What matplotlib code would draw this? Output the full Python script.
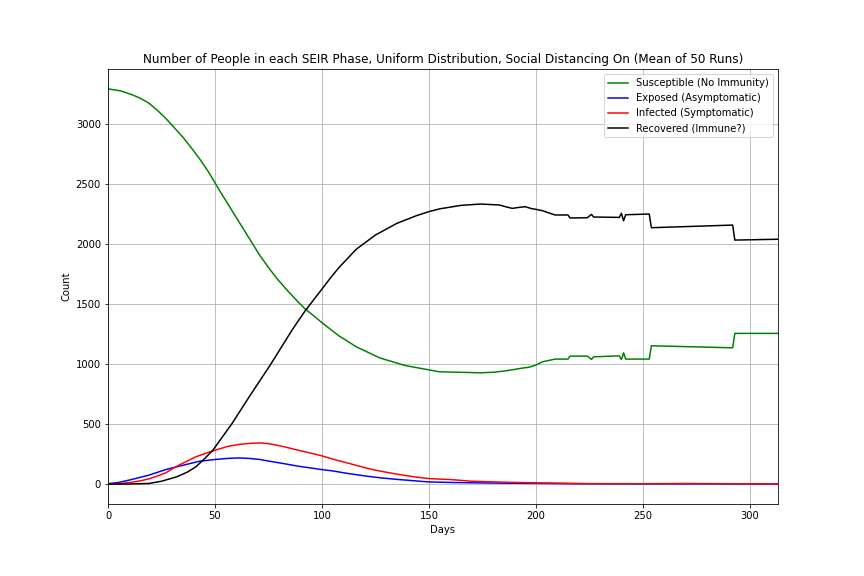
import matplotlib
matplotlib.use('Agg')
from matplotlib import pyplot as plt

# values
s_days = [0, 6, 11, 15, 19, 23, 27, 35, 39, 43, 47, 50, 52, 60, 68, 71, 75, 79, 83, 89, 92, 97,
          100, 104, 108, 116, 127, 139, 155, 165, 174, 180, 184, 188, 193, 197, 200, 203, 209,
          215, 216, 224, 226, 227, 239, 240, 241, 242, 253, 254, 292, 293, 313]
s_vals = [3292, 3275, 3245, 3215, 3175, 3115, 3047, 2890, 2800, 2705, 2600, 2510, 2450, 2220,
          1990, 1905, 1805, 1712, 1630, 1515, 1462, 1390, 1345, 1290, 1235, 1145, 1052, 988,
          936, 932, 928, 932, 940, 950, 965, 975, 992, 1019, 1042, 1042, 1067, 1067, 1039, 1061,
          1069, 1039, 1094, 1042, 1042, 1153, 1136, 1256, 1256]

e_days = [0, 5, 11, 19, 27, 31, 35, 43, 50, 56, 61, 66, 71, 76, 82, 89, 100, 105, 112, 121,
          128, 136, 150, 160, 170, 185, 200, 220, 250, 280, 313]
e_vals = [5, 15, 39, 75, 122, 140, 158, 192, 206, 215, 219, 215, 206, 190, 172, 150, 122, 111,
          90, 67, 52, 39, 19, 15, 12, 9, 7, 4, 3, 3, 2]

i_days = [0, 5, 11, 15, 19, 23, 27, 31, 35, 41, 46, 50, 56, 61, 66, 71, 75, 79, 84, 89, 95,
          100, 107, 113, 120, 125, 131, 136, 143, 150, 160, 170, 185, 200, 210, 225, 250, 270,
          290, 313]
i_vals = [2, 5, 16, 28, 44, 68, 95, 139, 175, 228, 260, 283, 315, 331, 340, 344, 338, 325, 305,
          283, 258, 236, 200, 172, 138, 117, 97, 81, 62, 47, 39, 25, 17, 11, 9, 5, 4, 6, 4, 3]

r_days = [0, 10, 19, 25, 32, 37, 41, 45, 49, 58, 66, 76, 86, 92, 100, 104, 108, 116, 125, 135,
          144, 150, 155, 165, 174, 180, 183, 186, 189, 192, 195, 198, 200, 203, 206, 209, 215,
          216, 224, 226, 227, 239, 240, 241, 242, 253, 254, 292, 293, 313]
r_vals = [0, 2, 6, 25, 61, 100, 144, 210, 283, 506, 728, 997, 1283, 1440, 1625, 1718, 1805,
          1956, 2075, 2172, 2235, 2270, 2293, 2322, 2333, 2328, 2325, 2310, 2297, 2305, 2311,
          2295, 2289, 2278, 2260, 2242, 2242, 2217, 2219, 2247, 2225, 2222, 2256, 2194, 2244,
          2250, 2136, 2158, 2033, 2040]

fig = plt.figure(figsize=(12, 8), dpi=72)
plt.subplots_adjust(bottom=0.125)
plt.plot(s_days, s_vals, color='g', label='Susceptible (No Immunity)')
plt.plot(e_days, e_vals, color='b', label='Exposed (Asymptomatic)')
plt.plot(i_days, i_vals, color='r', label='Infected (Symptomatic)')
plt.plot(r_days, r_vals, color='k', label='Recovered (Immune?)')
plt.xlim(0, 313)
plt.title('Number of People in each SEIR Phase, Uniform Distribution, Social Distancing On (Mean of 50 Runs)')
plt.xlabel('Days')
plt.ylabel('Count')
plt.grid()
plt.legend(loc='upper right')
plt.savefig('out.png', dpi=72)
